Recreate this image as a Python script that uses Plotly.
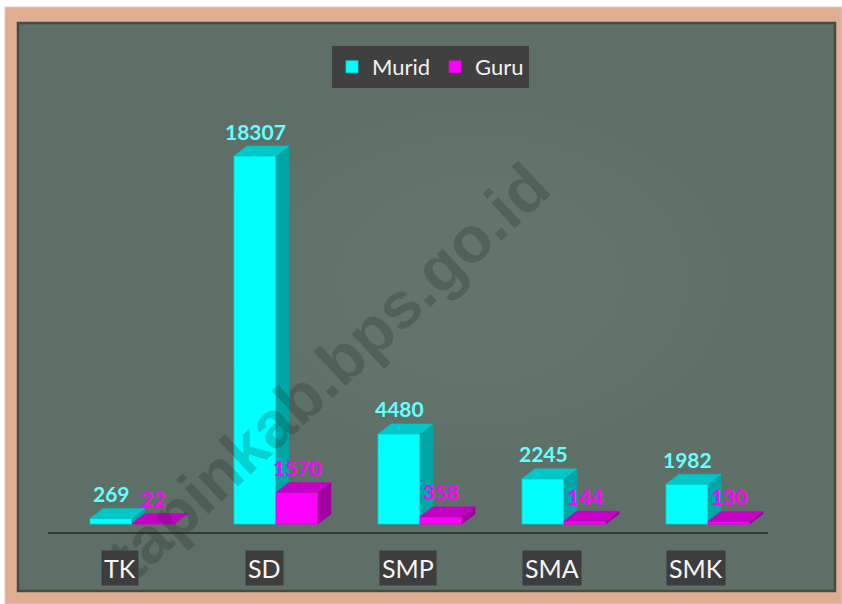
import plotly.graph_objects as go

# ---------------- data ----------------
categories = ["TK", "SD", "SMP", "SMA", "SMK"]
murid = [269, 18307, 4480, 2245, 1982]
guru = [22, 1570, 358, 144, 130]
series_names = ["Murid", "Guru"]
watermark_text = "tapinkab.bps.go.id"

# ---------------- layout constants ----------------
W, H = 842, 604
ML, MR, MT, MB = 48, 74, 100, 72
PW = W - ML - MR
PH = H - MT - MB
X_RANGE = [-0.5, 4.5]
Y_RANGE = [-398, 21093]
ux = (X_RANGE[1] - X_RANGE[0]) / PW   # x units per pixel
uy = (Y_RANGE[1] - Y_RANGE[0]) / PH   # y units per pixel


def px(x):
    return (x - ML) / PW


def py(y):
    return (H - MB - y) / PH


BAR_W = 42 * ux
OFF_C = -30 * ux
OFF_M = OFF_C + BAR_W
DX = 13 * ux
DY = 10 * uy

CYAN = "#00ffff"
CYAN_TOP = "#00c8c8"
CYAN_SIDE = "#00a6a6"
MAG = "#ff00ff"
MAG_TOP = "#c400c4"
MAG_SIDE = "#a000a0"
FONT = "Lato"

idx = list(range(len(categories)))


def faces(values, left_off, bases):
    sx, sy, tx, ty = [], [], [], []
    for i, v, b in zip(idx, values, bases):
        L = i + left_off
        R = L + BAR_W
        sx += [R, R + DX, R + DX, R, R, None]
        sy += [b, b + DY, v + DY, v, b, None]
        tx += [L, R, R + DX, L + DX, L, None]
        ty += [v, v, v + DY, v + DY, v, None]
    return sx, sy, tx, ty


fig = go.Figure()

# front faces (bars)
fig.add_bar(x=idx, y=murid, width=BAR_W, offset=OFF_C, name=series_names[0],
            marker=dict(color=CYAN, line=dict(width=0.8, color="#00dada")),
            hoverinfo="skip")
fig.add_bar(x=idx, y=guru, width=BAR_W, offset=OFF_M, name=series_names[1],
            marker=dict(color=MAG, line=dict(width=0.8, color="#dd00dd")),
            hoverinfo="skip")

# 3D faces
c_base = [min(m, g) for m, g in zip(murid, guru)]
m_base = [0] * len(guru)
csx, csy, ctx, cty = faces(murid, OFF_C, c_base)
msx, msy, mtx, mty = faces(guru, OFF_M, m_base)
for xs, ys, col in [(csx, csy, CYAN_SIDE), (ctx, cty, CYAN_TOP),
                    (msx, msy, MAG_SIDE), (mtx, mty, MAG_TOP)]:
    fig.add_scatter(x=xs, y=ys, mode="lines", fill="toself", fillcolor=col,
                    line=dict(color=col, width=0.5), showlegend=False,
                    hoverinfo="skip")

annotations = []
# watermark
annotations.append(dict(
    x=px(328), y=py(371), xref="paper", yref="paper", text=watermark_text,
    textangle=-43, showarrow=False,
    font=dict(family="Liberation Sans", size=65, weight="bold",
              color="rgba(20,30,25,0.2)")))

# category labels
for i, c in zip(idx, categories):
    annotations.append(dict(
        x=i, y=py(567.5), xref="x", yref="paper", text=c, showarrow=False,
        bgcolor="#3d3d3d", borderpad=2, xanchor="center", yanchor="middle",
        font=dict(family=FONT, size=25, color="#f5f5f5")))

# data labels
for i, v in zip(idx, murid):
    annotations.append(dict(
        x=i + OFF_C + BAR_W / 2, y=v, xref="x", yref="y", text=str(v),
        showarrow=False, yshift=25, yanchor="middle",
        font=dict(family=FONT, size=21, weight="bold", color="#66ffff")))
for i, v in zip(idx, guru):
    annotations.append(dict(
        x=i + OFF_M + BAR_W / 2, y=v, xref="x", yref="y", text=str(v),
        showarrow=False, yshift=25, yanchor="middle",
        font=dict(family=FONT, size=21, weight="bold", color=MAG)))

shapes = [
    # wooden frame
    dict(type="rect", xref="paper", yref="paper", layer="below",
         x0=px(5), y0=py(7), x1=px(842), y1=py(604),
         fillcolor="#e0ae92", line=dict(color="#d6cbc5", width=1)),
    # chalkboard
    dict(type="rect", xref="paper", yref="paper", layer="below",
         x0=px(18), y0=py(23), x1=px(835), y1=py(591),
         fillcolor="#5d6f67", line=dict(color="#454c46", width=2.5)),
]
# soft lighter area in the middle of the board (layered low-alpha ellipses)
for k in range(5):
    shapes.append(dict(type="circle", xref="paper", yref="paper", layer="below",
                       x0=px(200 + 35 * k), y0=py(90 + 22 * k),
                       x1=px(760 - 35 * k), y1=py(470 - 22 * k),
                       fillcolor="rgba(255,255,255,0.012)", line=dict(width=0)))

fig.update_layout(
    width=W, height=H,
    margin=dict(l=ML, r=MR, t=MT, b=MB),
    paper_bgcolor="#ffffff",
    plot_bgcolor="rgba(0,0,0,0)",
    barmode="overlay",
    showlegend=True,
    legend=dict(orientation="h", x=px(430.5), xanchor="center",
                y=py(46), yanchor="top", bgcolor="#404040",
                font=dict(family=FONT, size=22, color="#f0f0f0"),
                itemclick=False, itemdoubleclick=False),
    xaxis=dict(range=X_RANGE, showgrid=False, zeroline=False,
               showticklabels=False, ticks="", showline=True,
               linecolor="#343a36", linewidth=2, fixedrange=True),
    yaxis=dict(range=Y_RANGE, showgrid=False, zeroline=False,
               showticklabels=False, ticks="", showline=False,
               fixedrange=True),
    annotations=annotations,
    shapes=shapes,
)

fig.write_html("out.html",
               config={"displayModeBar": False},
               post_script="document.body.style.margin='0';"
                           "document.body.style.overflow='hidden';")
